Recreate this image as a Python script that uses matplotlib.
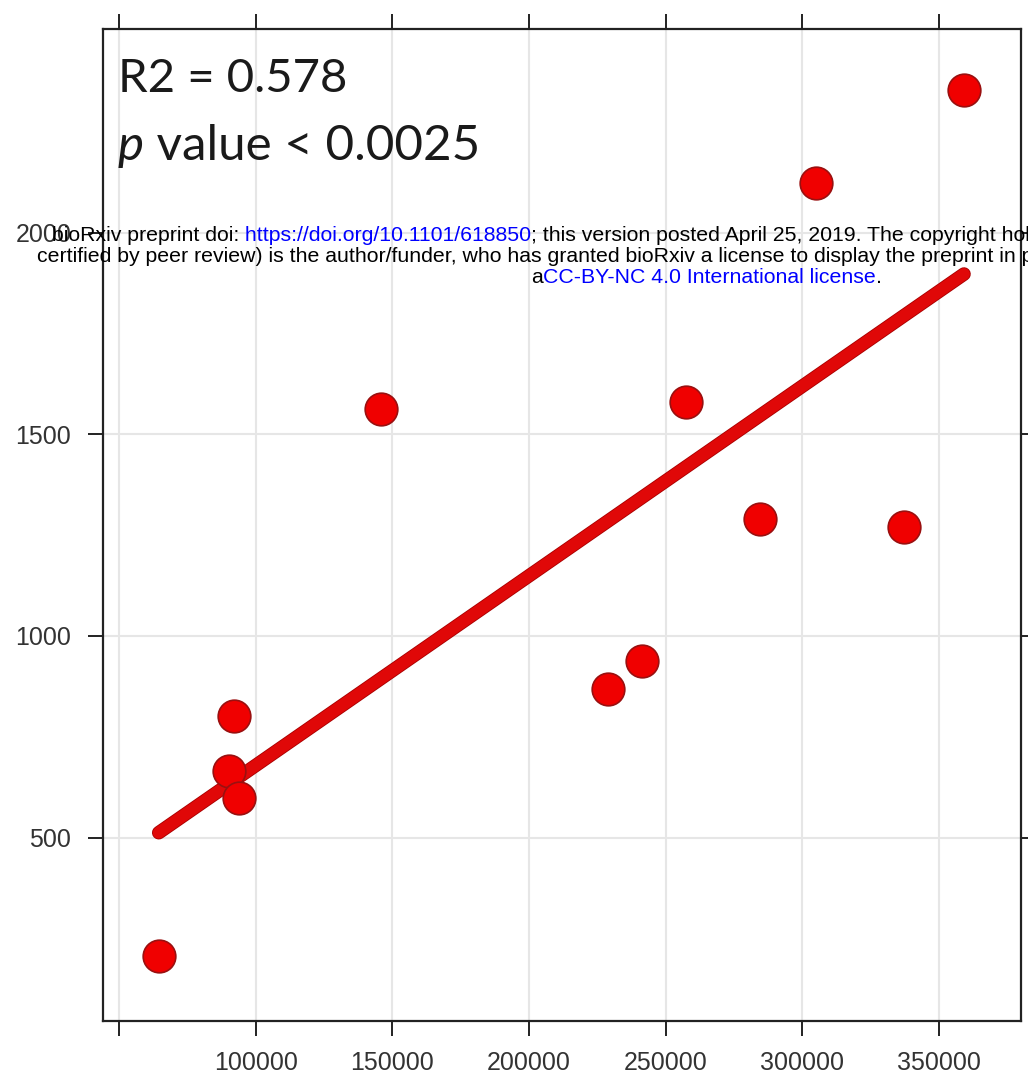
import numpy as np
import matplotlib
matplotlib.use("Agg")
import matplotlib.pyplot as plt
import matplotlib.patheffects as pe
from matplotlib.text import Annotation

# pubs per year vs citations
x_vals = [64550, 91960, 90130, 93790, 145980, 228800, 241230,
          257310, 284650, 305120, 337200, 359140]
y_vals = [205, 802, 666, 598, 1562, 869, 938,
          1579, 1290, 2124, 1270, 2354]

x_ticks = [50000, 100000, 150000, 200000, 250000, 300000, 350000]
x_labels = ["", "100000", "150000", "200000", "250000", "300000", "350000"]
y_ticks = [500, 1000, 1500, 2000]
y_labels = ["500", "1000", "1500", "2000"]

r2_text = "R2 = 0.578"
p_text = "value < 0.0025"

stamp_1 = ["bioRxiv preprint doi:", " https://doi.org/10.1101/618850",
           "; this version posted April 25, 2019. The copyright holder"]
stamp_2 = ["certified by peer review) is the author/funder, who has granted bioRxiv a license to display the preprint in perpetuity."]
stamp_3 = ["a", "CC-BY-NC 4.0 International license", "."]

tick_font = ["Liberation Sans Narrow", "Liberation Sans", "DejaVu Sans"]
stamp_size = 15.3

fig = plt.figure(figsize=(10.28, 10.75), dpi=100)
ax = fig.add_axes([103 / 1028, 1 - 1021 / 1075, 918 / 1028, 992 / 1075])

ax.set_xlim(44150, 380000)
ax.set_ylim(45, 2505)

ax.grid(True, color="#e6e6e6", linewidth=1.5)
ax.set_axisbelow(True)

# least squares fit
coef = np.polyfit(x_vals, y_vals, 1)
fit_x = np.array([min(x_vals), max(x_vals)])
fit_y = np.polyval(coef, fit_x)
ax.plot(fit_x, fit_y, color="#e00808", linewidth=8.6, solid_capstyle="round",
        zorder=3, path_effects=[pe.Stroke(linewidth=9.8, foreground="#a80000"), pe.Normal()])

ax.plot(x_vals, y_vals, linestyle="none", marker="o", markersize=23.5,
        markerfacecolor="#f00000", markeredgecolor="#9a1010", markeredgewidth=1.2, zorder=4)

ax.set_xticks(x_ticks)
ax.set_xticklabels(x_labels)
ax.set_yticks(y_ticks)
ax.set_yticklabels(y_labels)
ax.tick_params(direction="out", length=10.8, width=1.4, color="#222222",
               top=True, right=True, labelsize=18, labelcolor="#333333")
ax.tick_params(axis="x", pad=11)
ax.tick_params(axis="y", pad=12)
for lab in ax.get_xticklabels() + ax.get_yticklabels():
    lab.set_family(tick_font)
for sp in ax.spines.values():
    sp.set_color("#222222")
    sp.set_linewidth(1.6)

ax.text(0.016, 0.9365, r2_text, transform=ax.transAxes, fontsize=34,
        family="Lato", color="#1a1a1a", va="baseline")
p = ax.text(0.016, 0.868, "p", transform=ax.transAxes, fontsize=35.5,
            family="Lato", style="italic", color="#1a1a1a", va="baseline")
ax.annotate(" " + p_text, xy=(1, 0), xycoords=p, fontsize=35.5, family="Lato",
            color="#1a1a1a", va="bottom")


def chain(parts, x, y, colors):
    # each piece starts where the previous one ends
    prev = fig.text(x, y, parts[0], fontsize=stamp_size, family="Liberation Sans",
                    color=colors[0], va="baseline")
    for part, col in zip(parts[1:], colors[1:]):
        prev = fig.add_artist(Annotation(
            part, xy=(1, 0), xycoords=prev, fontsize=stamp_size,
            family="Liberation Sans", color=col, va="bottom"))


chain(stamp_1, 52 / 1028, 1 - 241 / 1075, ["black", "blue", "black"])
chain(stamp_2, 37 / 1028, 1 - 262 / 1075, ["black"])
chain(stamp_3, 531 / 1028, 1 - 283 / 1075, ["black", "blue", "black"])

fig.savefig("out.png", dpi=100)
